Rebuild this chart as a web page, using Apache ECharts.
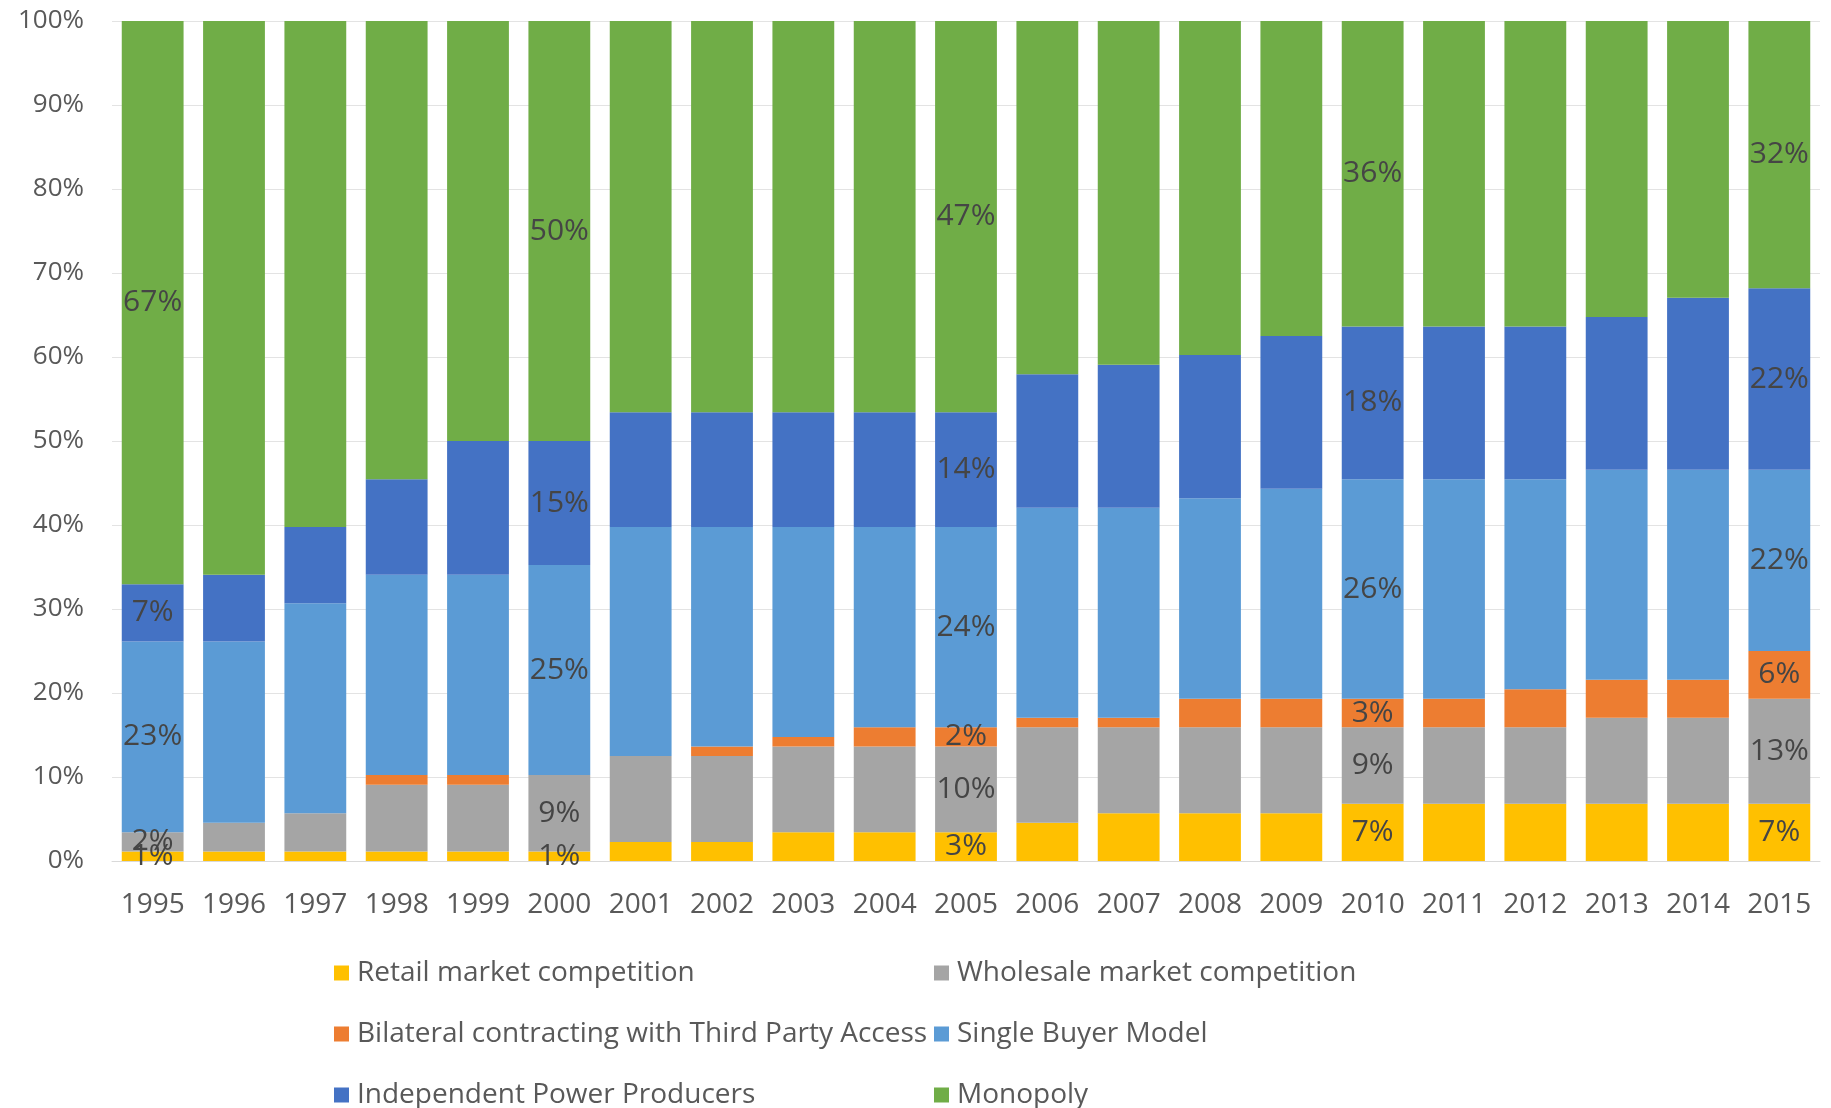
<!DOCTYPE html>
<html>
<head>
<meta charset="utf-8">
<title>Electricity market structures, 1995–2015</title>
<script src="https://cdn.jsdelivr.net/npm/echarts@6/dist/echarts.min.js"></script>
<style>
  html, body { margin: 0; padding: 0; background: #ffffff; }
  #chart { width: 1831px; height: 1108px; }
</style>
</head>
<body>
<div id="chart"></div>
<script>
// Number of countries in each market model, per year (stacked to 100%)
const years = ['1995','1996','1997','1998','1999','2000','2001','2002','2003','2004','2005',
               '2006','2007','2008','2009','2010','2011','2012','2013','2014','2015'];

const retail     = [1, 1, 1, 1, 1, 1, 2, 2, 3, 3, 3, 4, 5, 5, 5, 6, 6, 6, 6, 6, 6];
const wholesale  = [2, 3, 4, 7, 7, 8, 9, 9, 9, 9, 9,10, 9, 9, 9, 8, 8, 8, 9, 9,11];
const bilateral  = [0, 0, 0, 1, 1, 0, 0, 1, 1, 2, 2, 1, 1, 3, 3, 3, 3, 4, 4, 4, 5];
const singleBuyer= [20,19,22,21,21,22,24,23,22,21,21,22,22,21,22,23,23,22,22,22,19];
const ipp        = [6, 7, 8,10,14,13,12,12,12,12,12,14,15,15,16,16,16,16,16,18,19];
const monopoly   = [59,58,53,48,44,44,41,41,41,41,41,37,36,35,33,32,32,32,31,29,28];

const seriesNames = [
  'Retail market competition',
  'Wholesale market competition',
  'Bilateral contracting with Third Party Access',
  'Single Buyer Model',
  'Independent Power Producers',
  'Monopoly'
];
const seriesColors = ['#FFC000', '#A5A5A5', '#ED7D31', '#5B9BD5', '#4472C4', '#70AD47'];
const yTicks = [0, 10, 20, 30, 40, 50, 60, 70, 80, 90, 100];
const labeledYears = ['1995', '2000', '2005', '2010', '2015'];

const counts = [retail, wholesale, bilateral, singleBuyer, ipp, monopoly];
const totals = years.map((_, i) => counts.reduce((s, arr) => s + arr[i], 0));

const FONT = '"Open Sans", Lato, sans-serif';

const series = counts.map((arr, k) => ({
  name: seriesNames[k],
  type: 'bar',
  stack: 'share',
  barCategoryGap: '24%',
  itemStyle: { color: seriesColors[k] },
  emphasis: { disabled: true },
  data: arr.map((c, i) => {
    const pct = c / totals[i] * 100;
    const show = labeledYears.includes(years[i]) && c > 0;
    return {
      value: pct,
      label: {
        show: show,
        position: 'inside',
        formatter: Math.round(pct) + '%',
        color: '#454545',
        fontFamily: FONT,
        fontSize: 30
      }
    };
  })
}));

// one legend block per item, laid out in two columns and three rows
const legendCols = [334, 934];
const legendRows = [959, 1020, 1081];
const legends = seriesNames.map((name, k) => ({
  data: [name],
  left: legendCols[k % 2],
  top: legendRows[Math.floor(k / 2)],
  padding: 0,
  itemWidth: 15,
  itemHeight: 15,
  itemGap: 0,
  icon: 'rect',
  selectedMode: false,
  textStyle: { color: '#595959', fontFamily: FONT, fontSize: 28, padding: [0, 0, 0, 3] }
}));

const chart = echarts.init(document.getElementById('chart'), null, { renderer: 'canvas' });
chart.setOption({
  animation: false,
  backgroundColor: '#ffffff',
  grid: { left: 112, right: 11, top: 21, bottom: 247, containLabel: false },
  legend: legends,
  xAxis: {
    type: 'category',
    data: years,
    axisLine: { show: true, lineStyle: { color: '#D9D9D9', width: 1 } },
    axisTick: { show: false },
    axisLabel: { interval: 0, color: '#595959', fontFamily: FONT, fontSize: 28, margin: 30 }
  },
  yAxis: {
    type: 'value',
    min: yTicks[0],
    max: yTicks[yTicks.length - 1],
    interval: yTicks[1] - yTicks[0],
    axisLine: { show: false },
    axisTick: { show: false },
    splitLine: { lineStyle: { color: '#E3E3E3', width: 1 } },
    axisLabel: { color: '#595959', fontFamily: FONT, fontSize: 26, margin: 28, formatter: '{value}%' }
  },
  series: series
});
</script>
</body>
</html>
